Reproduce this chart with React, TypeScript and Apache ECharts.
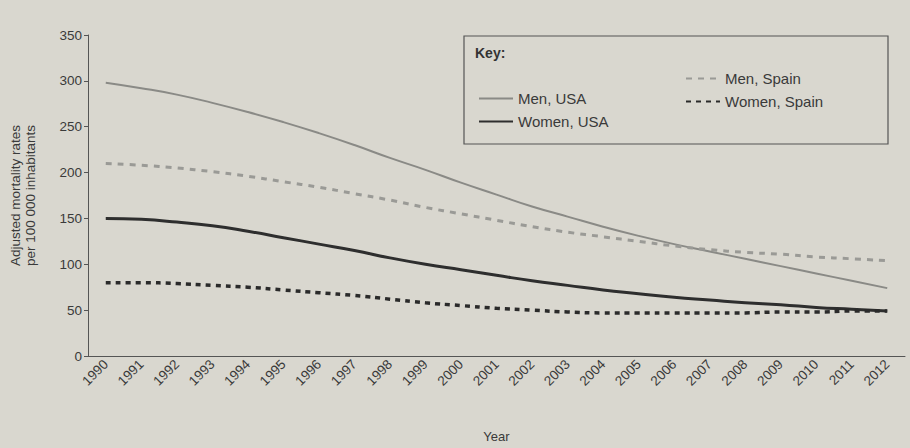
import React, { useEffect, useRef } from "react";
import * as echarts from "echarts";

const years = [
  "1990", "1991", "1992", "1993", "1994", "1995", "1996", "1997", "1998", "1999", "2000",
  "2001", "2002", "2003", "2004", "2005", "2006", "2007", "2008", "2009", "2010", "2011", "2012",
];
const menUSA = [298, 292, 285, 276, 266, 255, 243, 230, 216, 203, 189, 176, 163, 152, 141, 131, 122, 114, 106, 98, 90, 82, 74];
const menSpain = [210, 208, 205, 201, 196, 190, 184, 177, 170, 162, 155, 148, 141, 135, 130, 125, 120, 116, 113, 111, 108, 106, 104];
const womenUSA = [150, 149, 146, 142, 136, 129, 122, 115, 107, 100, 94, 88, 82, 77, 72, 68, 64, 61, 58, 56, 53, 51, 49];
const womenSpain = [80, 80, 79, 77, 75, 72, 69, 66, 62, 58, 55, 52, 50, 48, 47, 47, 47, 47, 47, 48, 48, 49, 49];
const yTicks = { min: 0, max: 350, interval: 50 };

const FONT = "Liberation Sans, Arial, sans-serif";
const TEXT = "#3a3a3a";

export default function App() {
  const ref = useRef<HTMLDivElement>(null);
  useEffect(() => {
    document.body.style.margin = "0";
    const chart = echarts.init(ref.current!, null, { renderer: "svg" });
    const line = (name: string, data: number[], color: string, width: number, type: any) => ({
      name,
      type: "line",
      data,
      symbol: "none",
      smooth: true,
      lineStyle: { color, width, type },
      itemStyle: { color },
    });
    const legendBase = {
      orient: "vertical",
      itemGap: 8,
      itemWidth: 34,
      itemHeight: 10,
      itemStyle: { opacity: 0 },
      textStyle: { color: TEXT, fontSize: 15, fontFamily: FONT },
    };
    chart.setOption({
      animation: false,
      backgroundColor: "#d9d7cf",
      textStyle: { fontFamily: FONT },
      grid: { left: 85, right: 5, top: 35, bottom: 90 },
      xAxis: {
        type: "category",
        data: years,
        boundaryGap: true,
        axisLine: { lineStyle: { color: "#555", width: 1 } },
        axisTick: { alignWithLabel: true, lineStyle: { color: "#555" }, length: 5 },
        axisLabel: { rotate: 45, color: TEXT, fontSize: 13.5, margin: 6, fontFamily: FONT },
        name: "Year",
        nameLocation: "middle",
        nameGap: 74,
        nameTextStyle: { color: TEXT, fontSize: 13, fontFamily: FONT },
      },
      yAxis: {
        type: "value",
        min: yTicks.min,
        max: yTicks.max,
        interval: yTicks.interval,
        splitLine: { show: false },
        axisLine: { show: true, lineStyle: { color: "#555", width: 1 } },
        axisTick: { show: true, lineStyle: { color: "#555" }, length: 4 },
        axisLabel: { color: TEXT, fontSize: 13.5, margin: 6, fontFamily: FONT },
        name: "Adjusted mortality rates\nper 100 000 inhabitants",
        nameLocation: "middle",
        nameGap: 50,
        nameTextStyle: { color: TEXT, fontSize: 13.5, lineHeight: 15, fontFamily: FONT },
      },
      legend: [
        { ...legendBase, data: ["Men, USA", "Women, USA"], left: 473, top: 86 },
        { ...legendBase, data: ["Men, Spain", "Women, Spain"], left: 680, top: 66 },
      ],
      graphic: [
        {
          type: "rect",
          shape: { x: 464, y: 36, width: 424, height: 108 },
          style: { fill: "rgba(0,0,0,0)", stroke: "#555", lineWidth: 1.2 },
          z: 10,
        },
        {
          type: "text",
          left: 475,
          top: 46,
          style: { text: "Key:", fill: "#333", font: `bold 14px ${FONT}` },
          z: 10,
        },
      ],
      series: [
        line("Men, USA", menUSA, "#8a8a86", 2, "solid"),
        line("Women, USA", womenUSA, "#2e2e2e", 3, "solid"),
        line("Men, Spain", menSpain, "#9a9a96", 3, [6, 6]),
        line("Women, Spain", womenSpain, "#2a2a2a", 3.5, [5, 5]),
      ],
    });
    return () => chart.dispose();
  }, []);
  return <div ref={ref} style={{ position: "fixed", left: 0, top: 0, width: 910, height: 448 }} />;
}
